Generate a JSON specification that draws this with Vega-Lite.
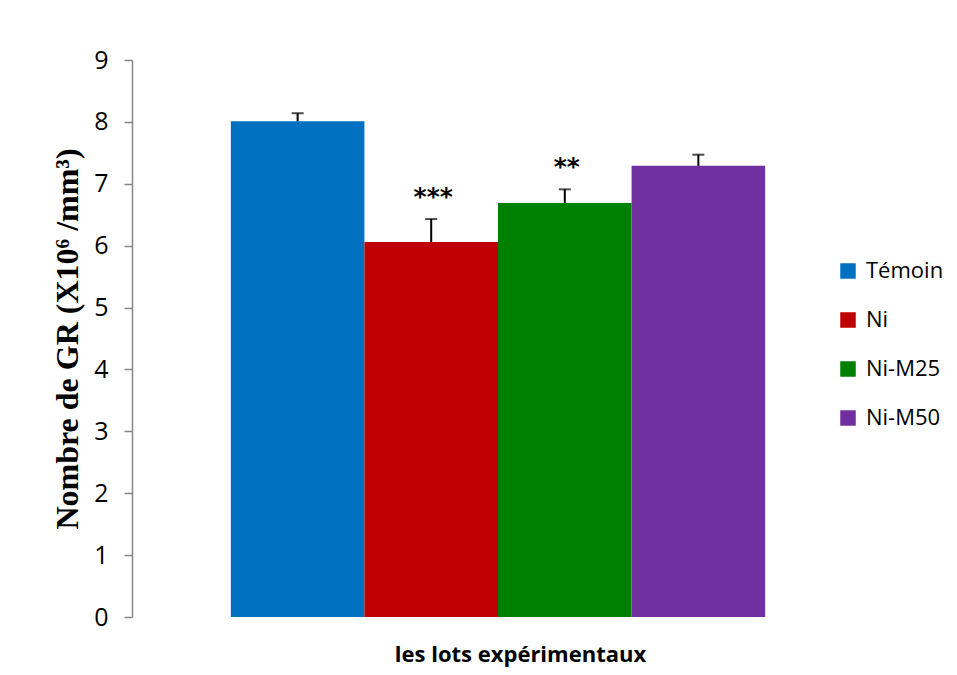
{
  "$schema": "https://vega.github.io/schema/vega-lite/v6.json",
  "autosize": {"type": "none"},
  "padding": {"left": 132, "top": 60, "right": 93, "bottom": 58},
  "width": 732,
  "height": 557,
  "background": "white",
  "config": {
    "view": {"stroke": null},
    "font": "Open Sans"
  },
  "data": {
    "values": [
      {"lot": "Témoin", "moyenne": 8.01, "erreur": 0.13, "sig": ""},
      {"lot": "Ni", "moyenne": 6.06, "erreur": 0.37, "sig": "***"},
      {"lot": "Ni-M25", "moyenne": 6.69, "erreur": 0.22, "sig": "**"},
      {"lot": "Ni-M50", "moyenne": 7.29, "erreur": 0.18, "sig": ""}
    ]
  },
  "transform": [{"calculate": "datum.moyenne + datum.erreur", "as": "haut"}],
  "encoding": {
    "x": {
      "field": "lot",
      "type": "nominal",
      "sort": ["Témoin", "Ni", "Ni-M25", "Ni-M50"],
      "scale": {"paddingInner": 0, "paddingOuter": 0.74},
      "axis": {
        "title": "les lots expérimentaux",
        "titleFont": "Open Sans",
        "titleFontSize": 22,
        "titleFontWeight": "bold",
        "titleColor": "black",
        "titleX": 388,
        "titleY": 37,
        "titleBaseline": "middle",
        "labels": false,
        "ticks": false,
        "domain": false
      }
    }
  },
  "layer": [
    {
      "mark": {"type": "bar"},
      "encoding": {
        "y": {
          "field": "moyenne",
          "type": "quantitative",
          "scale": {"domain": [0, 9], "nice": false},
          "axis": {
            "title": "Nombre de GR (X10⁶ /mm³)",
            "titleFont": "Liberation Serif",
            "titleFontSize": 32,
            "titleFontWeight": "bold",
            "titleColor": "black",
            "titlePadding": 9,
            "values": [0, 1, 2, 3, 4, 5, 6, 7, 8, 9],
            "format": "d",
            "grid": false,
            "domainColor": "#868686",
            "domainWidth": 1.5,
            "tickColor": "#868686",
            "tickWidth": 1.5,
            "tickSize": 8,
            "labelFont": "Open Sans",
            "labelFontSize": 25,
            "labelColor": "black",
            "labelPadding": 16
          }
        },
        "color": {
          "field": "lot",
          "type": "nominal",
          "sort": ["Témoin", "Ni", "Ni-M25", "Ni-M50"],
          "scale": {
            "domain": ["Témoin", "Ni", "Ni-M25", "Ni-M50"],
            "range": ["#0070C0", "#C00000", "#008000", "#7030A0"]
          },
          "legend": {
            "title": null,
            "orient": "none",
            "legendX": 705,
            "legendY": 200,
            "symbolType": "square",
            "symbolSize": 240,
            "symbolStrokeWidth": 0,
            "labelFont": "Open Sans",
            "labelFontSize": 22,
            "labelColor": "black",
            "labelOffset": 7,
            "rowPadding": 27
          }
        }
      }
    },
    {
      "mark": {"type": "rule", "color": "black", "strokeWidth": 2},
      "encoding": {
        "y": {"field": "moyenne", "type": "quantitative"},
        "y2": {"field": "haut"}
      }
    },
    {
      "mark": {"type": "tick", "color": "black", "thickness": 2, "size": 12, "orient": "horizontal"},
      "encoding": {
        "y": {"field": "haut", "type": "quantitative"}
      }
    },
    {
      "mark": {"type": "text", "font": "DejaVu Sans", "fontSize": 25, "fontWeight": "bold", "letterSpacing": 4, "color": "black", "baseline": "middle", "dy": -22, "dx": 2},
      "encoding": {
        "y": {"field": "haut", "type": "quantitative"},
        "text": {"field": "sig"}
      }
    }
  ]
}
